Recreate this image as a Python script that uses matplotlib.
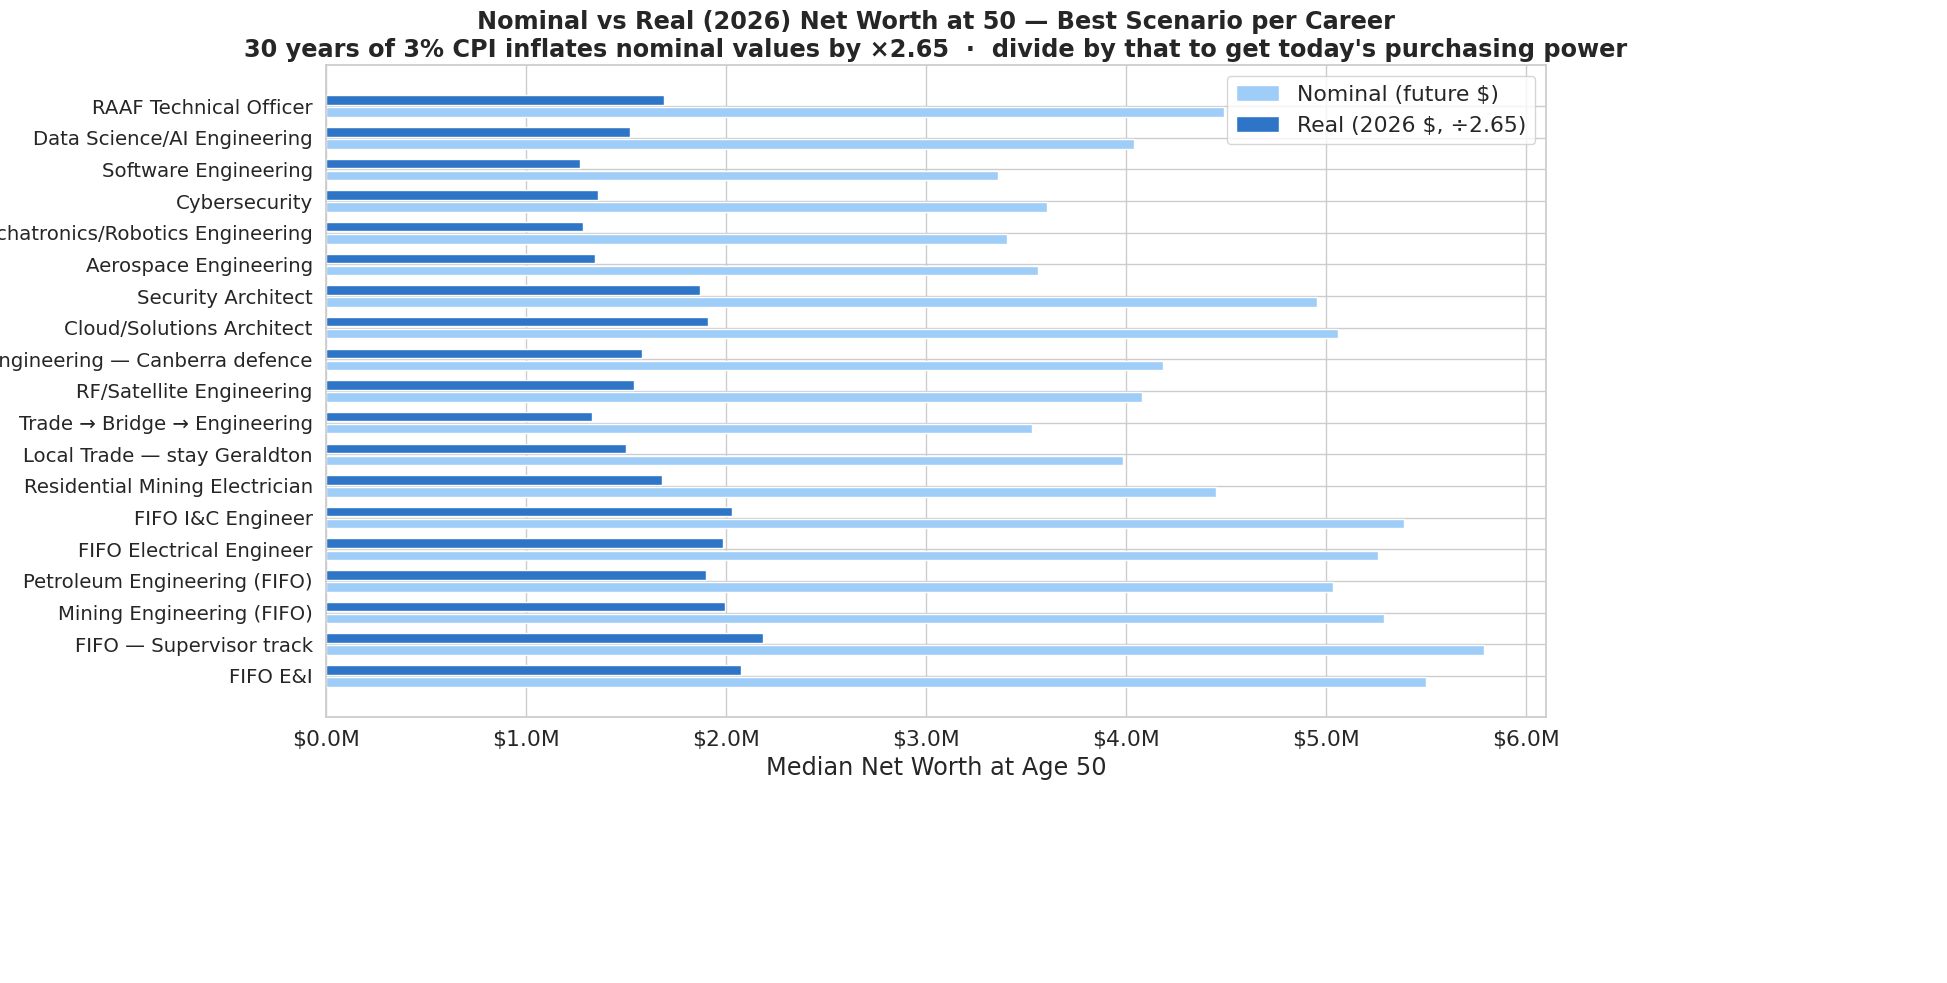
import matplotlib
matplotlib.use("Agg")
import matplotlib.pyplot as plt
import seaborn as sns
import numpy as np

careers = [
    "RAAF Technical Officer", "Data Science/AI Engineering", "Software Engineering",
    "Cybersecurity", "Mechatronics/Robotics Engineering", "Aerospace Engineering",
    "Security Architect", "Cloud/Solutions Architect", "Engineering — Canberra defence",
    "RF/Satellite Engineering", "Trade → Bridge → Engineering", "Local Trade — stay Geraldton",
    "Residential Mining Electrician", "FIFO I&C Engineer", "FIFO Electrical Engineer",
    "Petroleum Engineering (FIFO)", "Mining Engineering (FIFO)", "FIFO — Supervisor track",
    "FIFO E&I",
]
nominal = [4.49, 4.04, 3.36, 3.605, 3.405, 3.56, 4.955, 5.06, 4.185, 4.08,
           3.53, 3.985, 4.45, 5.39, 5.26, 5.035, 5.29, 5.79, 5.50]
real = [1.69, 1.52, 1.27, 1.36, 1.285, 1.345, 1.87, 1.91, 1.58, 1.54,
        1.33, 1.50, 1.68, 2.03, 1.985, 1.90, 1.995, 2.185, 2.075]

sns.set_theme(style="whitegrid")
plt.rcParams['font.family'] = ['DejaVu Sans']

s = 1.5  # font scale for 100 dpi canvas
fig = plt.figure(figsize=(19.47, 9.83), dpi=100)
ax = fig.add_axes([326/1947, 1-717/983, 1220/1947, 652/983])
y = np.arange(len(careers))
h = 0.3
ax.barh(y + 0.19, nominal, height=h, color="#9ecdf8", label="Nominal (future $)")
ax.barh(y - 0.19, real, height=h, color="#2e75c7", label="Real (2026 $, ÷2.65)")
ax.set_yticks(y)
ax.set_yticklabels(careers, fontsize=9.5*s)
ax.set_ylim(len(careers) - 1 + 1.3, -1.3)
ax.set_xlim(0, 6.1)
ax.set_xticks(np.arange(0, 7, 1))
ax.set_xticklabels([f"${v:.1f}M" for v in range(7)], fontsize=10.5*s)
ax.set_xlabel("Median Net Worth at Age 50", fontsize=11.5*s)
ax.set_title("Nominal vs Real (2026) Net Worth at 50 — Best Scenario per Career\n"
             "30 years of 3% CPI inflates nominal values by ×2.65  ·  divide by that to get today's purchasing power",
             fontsize=11.5*s, fontweight='bold')
ax.legend(loc='upper right', fontsize=10.5*s)
fig.savefig("out.png", dpi=100)
